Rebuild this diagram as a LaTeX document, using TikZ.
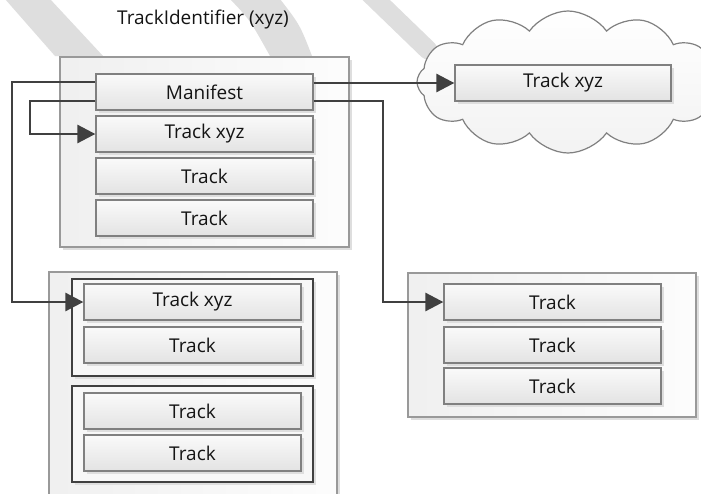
\documentclass[tikz,border=0pt]{standalone}
\usepackage{fontspec}
\setmainfont{Open Sans}
\usetikzlibrary{arrows.meta,shapes.symbols,shadows,calc}
\definecolor{linkc}{HTML}{404040}
\definecolor{bdr}{HTML}{808080}
\definecolor{cbdr}{HTML}{999999}
\definecolor{bandc}{HTML}{DEDEDE}
\definecolor{txt}{HTML}{141414}
\tikzset{
  shad/.style={drop shadow={shadow xshift=2.5pt, shadow yshift=-2.5pt, fill=black!13, opacity=1}},
  trackbox/.style={shad, draw=bdr, line width=1.3pt, top color=white!98!black, bottom color=white!89!black,
    minimum width=217pt, minimum height=36pt, inner sep=0pt, font=\fontsize{19}{20}\selectfont, text=txt},
  container/.style={shad, draw=cbdr, line width=1.3pt, left color=black!6, right color=black!1, inner sep=0pt},
  groupbox/.style={shad, draw=linkc, line width=2pt, fill=black!3, inner sep=0pt, minimum width=241pt},
  link/.style={draw=linkc, line width=2.8pt, -{Triangle[length=18pt,width=18pt]}},
  titletext/.style={font=\fontsize{19}{20}\selectfont, text=txt}
}
\begin{document}
\begin{tikzpicture}[x=1pt,y=-1pt]
\useasboundingbox (0,0) rectangle (701,493);
\fill[white] (0,0) rectangle (701,493);
\clip (0,0) rectangle (701,493);
% watermark bands
\fill[bandc] (5,-1) -- (50,-1) -- (103,56) -- (55,56) -- cycle;
\fill[bandc] (230,-1) .. controls (250,20) .. (270,56) -- (312,56) .. controls (300,25) .. (280,-1) -- cycle;
\draw[bandc, line width=19pt, line cap=round] (368,-8) -- (428,50);
% title
\node[titletext] (title) at (203,20) {TrackIdentifier (xyz)};
% containers
\node[container, minimum width=289pt, minimum height=190pt] (c1) at (204.5,152) {};
\node[container, minimum width=288pt, minimum height=240pt] (c2) at (193,392) {};
\node[container, minimum width=288pt, minimum height=144pt] (c3) at (552,345) {};
% cloud
\node[cloud, cloud puffs=12, cloud puff arc=110, aspect=2.2, draw=bdr, line width=1.2pt, top color=white, bottom color=black!5,
  minimum width=302pt, minimum height=142pt, inner sep=0pt] (cloud) at (568,82) {};
% top container tracks
\node[trackbox] (man) at (204.5,92) {Manifest};
\node[trackbox] (txyz) at (204.5,134) {Track xyz};
\node[trackbox] (t2) at (204.5,176) {Track};
\node[trackbox] (t3) at (204.5,218) {Track};
% cloud track
\node[trackbox, minimum width=216pt] (cxyz) at (563,83) {Track xyz};
% bottom-left groups
\node[groupbox, minimum height=97pt] (g1) at (192.5,327.5) {};
\node[groupbox, minimum height=96pt] (g2) at (192.5,434) {};
\node[trackbox] (bxyz) at (192.5,302) {Track xyz};
\node[trackbox] (b2) at (192.5,345) {Track};
\node[trackbox] (b3) at (192.5,411) {Track};
\node[trackbox] (b4) at (192.5,453) {Track};
% bottom-right tracks
\node[trackbox] (r1) at (552.5,302) {Track};
\node[trackbox] (r2) at (552.5,345) {Track};
\node[trackbox] (r3) at (552.5,386) {Track};
% connectors
\coordinate (l1) at (12,82);
\coordinate (l2) at (30,101);
\coordinate (l3) at (383,101);
\draw[link] (man.west |- l1) -- (l1) |- (bxyz.west);
\draw[link] (man.west |- l2) -- (l2) |- (txyz.west);
\draw[link] (man.east |- cxyz.west) -- (cxyz.west);
\draw[link] (man.east |- l3) -- (l3) |- (r1.west);
\end{tikzpicture}
\end{document}
